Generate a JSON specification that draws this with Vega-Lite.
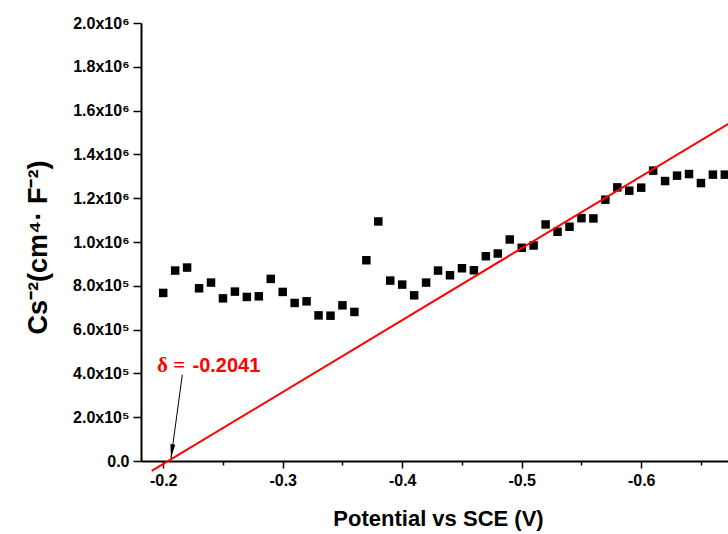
{
  "$schema": "https://vega.github.io/schema/vega-lite/v6.json",
  "width": 587,
  "height": 438,
  "autosize": "none",
  "padding": {"left": 141, "top": 23, "right": 0, "bottom": 73},
  "background": "white",
  "config": {"view": {"stroke": null}, "font": "Liberation Sans"},
  "datasets": {
    "points": [
      {"x": -0.20, "y": 767500}, {"x": -0.21, "y": 869600}, {"x": -0.22, "y": 883300}, {"x": -0.23, "y": 788600},
      {"x": -0.24, "y": 814700}, {"x": -0.25, "y": 742800}, {"x": -0.26, "y": 773500}, {"x": -0.27, "y": 749200},
      {"x": -0.28, "y": 752000}, {"x": -0.29, "y": 831600}, {"x": -0.30, "y": 772100}, {"x": -0.31, "y": 721700},
      {"x": -0.32, "y": 729100}, {"x": -0.33, "y": 665000}, {"x": -0.34, "y": 663600}, {"x": -0.35, "y": 710800},
      {"x": -0.36, "y": 680600}, {"x": -0.37, "y": 916700}, {"x": -0.38, "y": 1093800}, {"x": -0.39, "y": 823800},
      {"x": -0.40, "y": 805500}, {"x": -0.41, "y": 756500}, {"x": -0.42, "y": 814700}, {"x": -0.43, "y": 869600},
      {"x": -0.44, "y": 848100}, {"x": -0.45, "y": 880100}, {"x": -0.46, "y": 871000}, {"x": -0.47, "y": 935000},
      {"x": -0.48, "y": 947400}, {"x": -0.49, "y": 1011400}, {"x": -0.50, "y": 973500}, {"x": -0.51, "y": 984000},
      {"x": -0.52, "y": 1080100}, {"x": -0.53, "y": 1046700}, {"x": -0.54, "y": 1069600}, {"x": -0.55, "y": 1108900},
      {"x": -0.56, "y": 1107600}, {"x": -0.57, "y": 1193200}, {"x": -0.58, "y": 1249400}, {"x": -0.59, "y": 1234300},
      {"x": -0.60, "y": 1248100}, {"x": -0.61, "y": 1325900}, {"x": -0.62, "y": 1278300}, {"x": -0.63, "y": 1303000},
      {"x": -0.64, "y": 1310300}, {"x": -0.65, "y": 1269100}, {"x": -0.66, "y": 1307600}, {"x": -0.67, "y": 1307600}
    ],
    "fit": [{"x": -0.19038, "y": -45060}, {"x": -0.673, "y": 1539900}],
    "arrow": [{"x": -0.21598, "y": 393600, "x2": -0.20653, "y2": 12360}],
    "head": [{"x": -0.20728, "y": 43940}],
    "ann1": [{"x": -0.19481, "y": 407300, "t": "δ ="}],
    "ann2": [{"x": -0.2245, "y": 407300, "t": "-0.2041"}]
  },
  "layer": [
    {
      "data": {"name": "points"},
      "mark": {"type": "point", "shape": "square", "filled": true, "color": "black", "size": 72, "opacity": 1},
      "encoding": {
        "x": {
          "field": "x", "type": "quantitative",
          "scale": {"domain": [-0.67264, -0.18142], "reverse": true, "nice": false, "zero": false},
          "axis": {
            "values": [-0.2, -0.25, -0.3, -0.35, -0.4, -0.45, -0.5, -0.55, -0.6, -0.65],
            "labelExpr": "abs(round(datum.value*100)) % 10 == 0 ? '-' + format(abs(datum.value), '.1f') : ''",
            "tickSize": {"condition": {"test": "abs(round(datum.value*100)) % 10 == 0", "value": 7}, "value": 4},
            "tickColor": "black", "tickWidth": 1.5,
            "domainColor": "black", "domainWidth": 2,
            "grid": false,
            "labelFont": "Liberation Sans", "labelFontSize": 16, "labelFontWeight": "bold", "labelColor": "black",
            "labelPadding": 4, "labelFlush": false, "labelOverlap": false,
            "title": "Potential vs SCE (V)",
            "titleFont": "Liberation Sans", "titleFontSize": 22, "titleFontWeight": "bold", "titleColor": "black",
            "titleX": 297, "titleY": 64, "titleBaseline": "alphabetic", "titleAlign": "center"
          }
        },
        "y": {
          "field": "y", "type": "quantitative",
          "scale": {"domain": [0, 2000000], "nice": false},
          "axis": {
            "values": [0, 100000, 200000, 300000, 400000, 500000, 600000, 700000, 800000, 900000, 1000000, 1100000, 1200000, 1300000, 1400000, 1500000, 1600000, 1700000, 1800000, 1900000, 2000000],
            "labelExpr": "datum.value % 200000 != 0 ? '' : datum.value == 0 ? '0.0' : datum.value >= 1000000 ? format(datum.value/1000000, '.1f') + 'x10⁶' : format(datum.value/100000, '.1f') + 'x10⁵'",
            "tickSize": {"condition": {"test": "datum.value % 200000 == 0", "value": 8}, "value": 4},
            "tickColor": "black", "tickWidth": 1.5,
            "domainColor": "black", "domainWidth": 2,
            "grid": false,
            "labelFont": "Liberation Sans", "labelFontSize": 16, "labelFontWeight": "bold", "labelColor": "black",
            "labelPadding": 4, "labelFlush": false, "labelOverlap": false,
            "title": "Cs⁻²(cm⁴· F⁻²)",
            "titleFont": "Liberation Sans", "titleFontSize": 27, "titleFontWeight": "bold", "titleColor": "black",
            "titleAngle": 270, "titleX": -95, "titleY": 224, "titleBaseline": "alphabetic", "titleAlign": "center"
          }
        }
      }
    },
    {
      "mark": {"type": "rule", "color": "black", "strokeWidth": 2},
      "encoding": {"y": {"datum": 2000000, "type": "quantitative"}}
    },
    {
      "data": {"name": "fit"},
      "mark": {"type": "line", "color": "#ff0000", "strokeWidth": 2, "clip": false},
      "encoding": {
        "x": {"field": "x", "type": "quantitative"},
        "y": {"field": "y", "type": "quantitative"}
      }
    },
    {
      "data": {"name": "arrow"},
      "mark": {"type": "rule", "color": "black", "strokeWidth": 1},
      "encoding": {
        "x": {"field": "x", "type": "quantitative"},
        "y": {"field": "y", "type": "quantitative"},
        "x2": {"field": "x2"},
        "y2": {"field": "y2"}
      }
    },
    {
      "data": {"name": "head"},
      "mark": {"type": "point", "shape": "M0,1L-0.35,-1L0.35,-1Z", "size": 196, "filled": true, "color": "black", "opacity": 1, "angle": 7.7, "strokeWidth": 0},
      "encoding": {
        "x": {"field": "x", "type": "quantitative"},
        "y": {"field": "y", "type": "quantitative"}
      }
    },
    {
      "data": {"name": "ann1"},
      "mark": {"type": "text", "color": "#ff0000", "font": "Liberation Serif", "fontSize": 21, "fontWeight": "bold", "align": "left", "baseline": "alphabetic"},
      "encoding": {
        "x": {"field": "x", "type": "quantitative"},
        "y": {"field": "y", "type": "quantitative"},
        "text": {"field": "t"}
      }
    },
    {
      "data": {"name": "ann2"},
      "mark": {"type": "text", "color": "#ff0000", "font": "Liberation Sans", "fontSize": 20, "fontWeight": "bold", "align": "left", "baseline": "alphabetic"},
      "encoding": {
        "x": {"field": "x", "type": "quantitative"},
        "y": {"field": "y", "type": "quantitative"},
        "text": {"field": "t"}
      }
    }
  ]
}
